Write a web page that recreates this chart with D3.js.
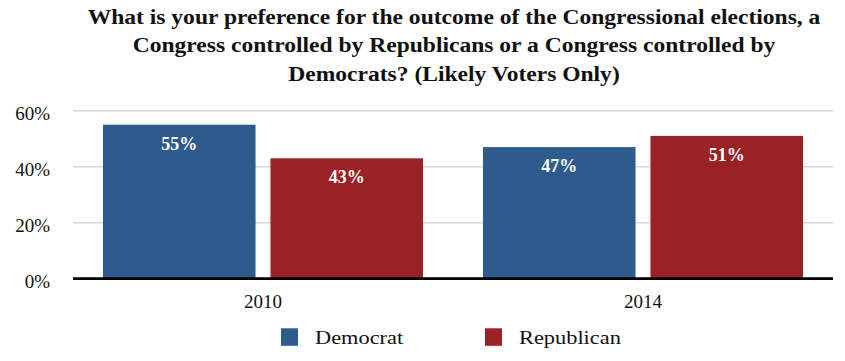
<!DOCTYPE html>
<html><head><meta charset="utf-8">
<script src="https://cdn.jsdelivr.net/npm/d3@7"></script>
<style>body{margin:0;background:#fff}svg{display:block}</style>
</head><body>
<svg id="c" width="845" height="361"></svg>
<script>
const titleLines = ["What is your preference for the outcome of the Congressional elections, a",
  "Congress controlled by Republicans or a Congress controlled by",
  "Democrats? (Likely Voters Only)"];
const categories = ["2010", "2014"];
const seriesNames = ["Democrat", "Republican"];
const democrat = [55, 47];
const republican = [43, 51];
const yTicks = [0, 20, 40, 60];
const colors = ["#2E5A8C", "#9A2125"];

const svg = d3.select("#c");
const font = "'Liberation Serif', 'Times New Roman', serif";
const stretch = 1.177; // match wider book-style serif
const W = 845, H = 361;
const m = {left: 73, right: 12, top: 110.7, bottom: 82.3};
const x0 = d3.scaleBand().domain(categories).range([m.left, W - m.right]).paddingInner(0).paddingOuter(0);
const x1 = d3.scaleBand().domain(seriesNames).range([30, x0.bandwidth() - 30]).paddingInner(15 / 168).paddingOuter(0);
const y = d3.scaleLinear().domain([0, 60]).range([H - m.bottom, m.top]);

function widen(sel) {
  sel.each(function () {
    const len = this.getComputedTextLength();
    d3.select(this).attr("textLength", len * stretch).attr("lengthAdjust", "spacingAndGlyphs");
  });
}

// title
svg.append("g").selectAll("text").data(titleLines).join("text")
  .attr("x", 454).attr("y", (d, i) => 24 + i * 28.3)
  .attr("text-anchor", "middle").style("font-family", font).attr("font-weight", "bold")
  .attr("font-size", 20).attr("fill", "#111").text(d => d).call(widen);

// grid
svg.append("g").selectAll("line").data(yTicks.filter(t => t > 0)).join("line")
  .attr("x1", m.left).attr("x2", W - m.right).attr("y1", d => y(d)).attr("y2", d => y(d))
  .attr("stroke", "#d9d9d9").attr("stroke-width", 1.5);

// y axis labels
const yAxis = d3.axisLeft(y).tickValues(yTicks).tickFormat(d => d + "%").tickSize(0).tickPadding(0);
const ya = svg.append("g").attr("transform", `translate(50,0)`).call(yAxis);
ya.select(".domain").remove();
ya.selectAll("text").style("font-family", font).attr("font-size", 19).attr("fill", "#111").attr("dy", "0.48em");

// bars
const data = categories.map((c, i) => ({c, vals: [democrat[i], republican[i]]}));
const g = svg.append("g").selectAll("g").data(data).join("g")
  .attr("transform", d => `translate(${x0(d.c)},0)`);
g.selectAll("rect").data(d => d.vals.map((v, j) => ({s: seriesNames[j], v, j}))).join("rect")
  .attr("x", d => x1(d.s)).attr("width", x1.bandwidth())
  .attr("y", d => y(d.v)).attr("height", d => y(0) - y(d.v))
  .attr("fill", d => colors[d.j]);
g.selectAll("text").data(d => d.vals.map((v, j) => ({s: seriesNames[j], v, j}))).join("text")
  .attr("x", d => x1(d.s) + x1.bandwidth() / 2).attr("y", d => y(d.v) + 25)
  .attr("text-anchor", "middle").style("font-family", font).attr("font-weight", "bold")
  .attr("font-size", 18).attr("fill", "#fff").text(d => d.v + "%");

// baseline
svg.append("line").attr("x1", m.left).attr("x2", W - m.right).attr("y1", y(0)).attr("y2", y(0))
  .attr("stroke", "#000").attr("stroke-width", 2.7);

// x axis
const xAxis = d3.axisBottom(x0).tickSize(0).tickPadding(0);
const xa = svg.append("g").attr("transform", `translate(0,${y(0)})`).call(xAxis);
xa.select(".domain").remove();
xa.selectAll("text").style("font-family", font).attr("font-size", 19).attr("fill", "#111")
  .attr("y", 29).attr("dy", 0);

// legend
const lg = svg.append("g").selectAll("g").data(seriesNames).join("g")
  .attr("transform", (d, i) => `translate(${281 + i * 204},328.3)`);
lg.append("rect").attr("width", 17).attr("height", 17.5).attr("fill", (d, i) => colors[i]);
lg.append("text").attr("x", 34).attr("y", 15.7).style("font-family", font).attr("font-size", 19)
  .attr("fill", "#111").text(d => d).call(widen);
</script>
</body></html>
